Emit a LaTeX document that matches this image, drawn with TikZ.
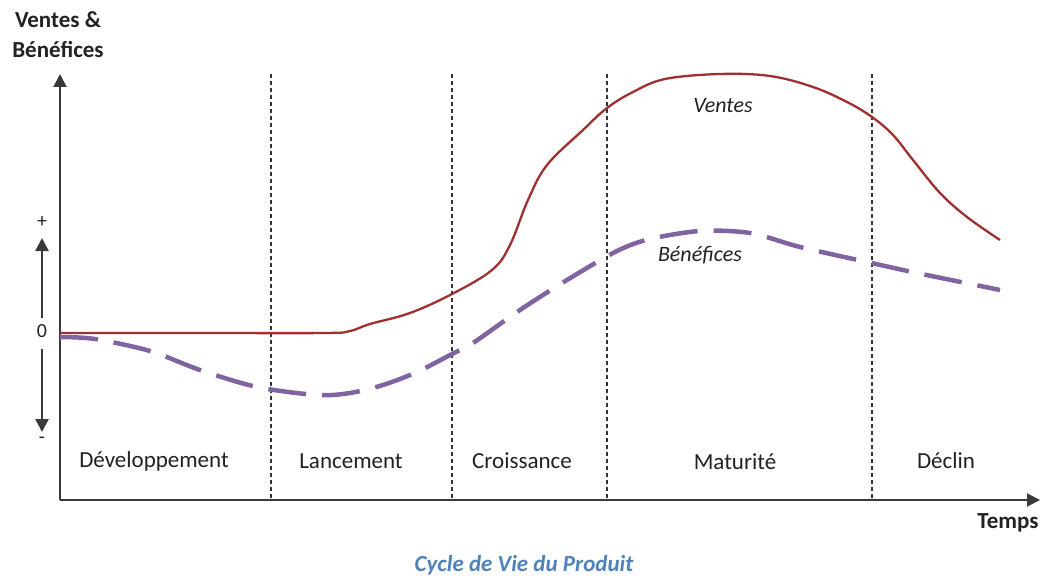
\documentclass[tikz,border=0pt]{standalone}
\usepackage{fontspec}
\setmainfont{Carlito}
\usetikzlibrary{arrows.meta}
\definecolor{ventesred}{HTML}{A0302F}
\definecolor{benefpurple}{HTML}{8064A2}
\definecolor{capblue}{HTML}{4F81BD}
\definecolor{axisgray}{HTML}{3A3A3A}
\definecolor{txtdark}{HTML}{222222}
\begin{document}
\begin{tikzpicture}[x=1pt,y=-1pt,
  axisline/.style={draw=axisgray, line width=2pt},
  arrowtip/.style={-{Triangle[length=13pt,width=13pt]}},
  phaseline/.style={draw=black!80, line width=1.4pt, dash pattern=on 4pt off 3pt},
  lbl/.style={font=\fontsize{23}{27}\selectfont, text=txtdark, inner sep=0pt},
  boldlbl/.style={font=\fontsize{23}{30}\selectfont\bfseries, text=txtdark, inner sep=0pt, align=center},
  curvelbl/.style={font=\fontsize{22}{26}\selectfont\itshape, text=txtdark, inner sep=0pt},
  signlbl/.style={font=\fontsize{20}{24}\selectfont, text=txtdark, inner sep=0pt},
  ventescurve/.style={draw=ventesred, line width=2.3pt},
  benefcurve/.style={draw=benefpurple, line width=4.5pt, dash pattern=on 38pt off 16pt}
]
\useasboundingbox (0,0) rectangle (1045,578);

% axes
\coordinate (O) at (60,500);
\coordinate (Ytip) at (60,74);
\coordinate (Xtip) at (1040,500);
\draw[axisline,arrowtip] (O) -- (Ytip);
\draw[axisline,arrowtip] (O) -- (Xtip);

% phase dividers
\foreach \px/\nm in {271/a,452/b,607/c,872/d}{
  \coordinate (top\nm) at (\px,74);
  \coordinate (bot\nm) at (\px,500);
  \draw[phaseline] (top\nm) -- (bot\nm);
}

% small +/- arrows
\coordinate (upS) at (42,318);
\coordinate (upT) at (42,238);
\coordinate (dnS) at (42,349);
\coordinate (dnT) at (42,432);
\draw[axisline,line width=2.5pt,arrowtip] (upS) -- (upT);
\draw[axisline,line width=2.5pt,arrowtip] (dnS) -- (dnT);
\node[signlbl] (plus) at (42,222) {+};
\node[signlbl] (zero) at (42,331) {0};
\node[signlbl] (minus) at (42,440) {-};

% curves
\draw[ventescurve] plot[smooth, tension=0.6] coordinates {
  (60,333) (200,333) (325,333) (350,331) (370,324) (410,313) (452,294)
  (492,270) (510,245) (528,200) (547,165) (583,130) (607,108) (633,92)
  (665,79) (720,74) (770,76) (813,87) (847,102) (872,117) (893,135)
  (913,160) (940,193) (967,217) (1000,240)};
\draw[benefcurve] plot[smooth, tension=0.5] coordinates {
  (60,337) (95,339) (150,351) (200,370) (257,387) (317,395) (350,393)
  (383,385) (417,372) (452,354) (473,343) (520,310) (567,280) (617,251)
  (650,239) (700,231) (750,233) (800,247) (867,262) (917,273) (1000,290)};

% labels
\node[boldlbl] (ylabel) at (58,35) {Ventes \&\\Bénéfices};
\node[boldlbl] (xlabel) at (1008,523) {Temps};
\node[curvelbl] (ventes) at (723,106) {Ventes};
\node[curvelbl] (benef) at (700,255) {Bénéfices};
\node[lbl] (p1) at (154,461) {Développement};
\node[lbl] (p2) at (351,461) {Lancement};
\node[lbl] (p3) at (522,461) {Croissance};
\node[lbl] (p4) at (735,462) {Maturité};
\node[lbl] (p5) at (946,461) {Déclin};
\node[font=\fontsize{23}{27}\selectfont\bfseries\itshape, text=capblue, inner sep=0pt] (caption) at (524,565) {Cycle de Vie du Produit};
\end{tikzpicture}
\end{document}
